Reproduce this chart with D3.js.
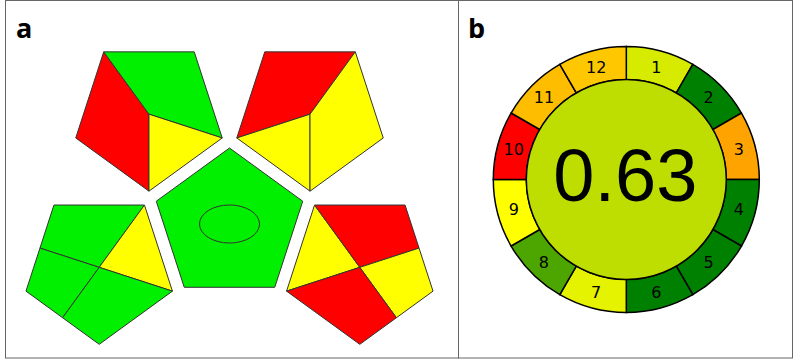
<!DOCTYPE html>
<html>
<head>
<meta charset="utf-8">
<script src="https://cdn.jsdelivr.net/npm/d3@7"></script>
<style>
  html, body { margin: 0; padding: 0; background: #fff; }
  svg { display: block; }
</style>
</head>
<body>
<div id="chart"></div>
<script>
(function() {
  'use strict';
  var WIDTH = 794;
  var HEIGHT = 359;

  // panel a: GAPI field colours, per pentagon, in drawing order of its fields
  var gapiTopLeft = ['R', 'G', 'Y'];
  var gapiTopRight = ['R', 'Y', 'Y'];
  var gapiBottomLeft = ['G', 'Y', 'G', 'G'];
  var gapiBottomRight = ['Y', 'R', 'Y', 'R'];
  var gapiCentre = ['G'];

  // panel b: AGREE principle scores and weights
  var agreeLabels = ['1', '2', '3', '4', '5', '6', '7', '8', '9', '10', '11', '12'];
  var agreeScores = [0.58, 1.0, 0.32, 1.0, 1.0, 1.0, 0.55, 0.85, 0.5, 0.0, 0.37, 0.39];
  var agreeWeights = [1, 1, 1, 1, 1, 1, 1, 1, 1, 1, 1, 1];

  var gapiColor = d3.scaleOrdinal(['G', 'Y', 'R'], ['#00f000', '#ffff00', '#ff0000']);
  var agreeColor = d3.scaleLinear().domain([0, 0.5, 1]).range(['#ff0000', '#ffff00', '#008000']);

  var svg = d3.select('#chart').append('svg')
    .attr('width', WIDTH)
    .attr('height', HEIGHT);

  svg.append('rect').attr('width', WIDTH).attr('height', HEIGHT).attr('fill', '#fff');

  // frames
  svg.append('rect').attr('x', 5.5).attr('y', 0.5).attr('width', 453).attr('height', 357.5)
    .attr('fill', 'none').attr('stroke', '#666').attr('stroke-width', 1);
  svg.append('rect').attr('x', 458.5).attr('y', 0.5).attr('width', 334).attr('height', 357.5)
    .attr('fill', 'none').attr('stroke', '#666').attr('stroke-width', 1);

  svg.append('text').attr('x', 16).attr('y', 38).text('a')
    .attr('font-family', 'Open Sans, sans-serif').attr('font-weight', 'bold').attr('font-size', 27);
  svg.append('text').attr('x', 468).attr('y', 38).text('b')
    .attr('font-family', 'Open Sans, sans-serif').attr('font-weight', 'bold').attr('font-size', 27);

  // ---- panel a ----
  var R = 77;
  var gap = 137;
  var cx = 229.5, cy = 225;
  var deg = Math.PI / 180;

  function pentagon(px, py, startDeg) {
    var pts = [];
    for (var i = 0; i < 5; i++) {
      var a = (startDeg + i * 72) * deg;
      pts.push([px + R * Math.cos(a), py + R * Math.sin(a)]);
    }
    return pts;
  }
  function mid(p, q) { return [(p[0] + q[0]) / 2, (p[1] + q[1]) / 2]; }

  var line = d3.line().curve(d3.curveLinearClosed);
  var ga = svg.append('g');

  // point-down pentagons: v0 top-left, v1 top-right, v2 right, v3 bottom, v4 left
  function fields(kind, v, c) {
    if (kind === 'tl') return [[c, v[0], v[4], v[3]], [c, v[0], v[1], v[2]], [c, v[2], v[3]]];
    if (kind === 'tr') return [[c, v[4], v[0], v[1]], [c, v[4], v[3]], [c, v[3], v[2], v[1]]];
    if (kind === 'bl') {
      var m04 = mid(v[0], v[4]), m34 = mid(v[3], v[4]);
      return [[c, m04, v[0], v[1]], [c, v[1], v[2]], [c, m04, v[4], m34], [c, m34, v[3], v[2]]];
    }
    var m12 = mid(v[1], v[2]), m23 = mid(v[2], v[3]);
    return [[c, v[0], v[4]], [c, v[0], v[1], m12], [c, m12, v[2], m23], [c, m23, v[3], v[4]]];
  }

  var outer = [
    {kind: 'tl', dir: 234, colors: gapiTopLeft},
    {kind: 'tr', dir: 306, colors: gapiTopRight},
    {kind: 'bl', dir: 162, colors: gapiBottomLeft},
    {kind: 'br', dir: 18, colors: gapiBottomRight}
  ];

  outer.forEach(function(p) {
    var px = cx + gap * Math.cos(p.dir * deg);
    var py = cy + gap * Math.sin(p.dir * deg);
    var v = pentagon(px, py, 234);
    var polys = fields(p.kind, v, [px, py]);
    ga.selectAll(null).data(polys).enter().append('path')
      .attr('d', function(d) { return line(d); })
      .attr('fill', function(d, i) { return gapiColor(p.colors[i]); })
      .attr('stroke', '#333').attr('stroke-width', 1).attr('stroke-linejoin', 'round');
  });

  ga.append('path')
    .attr('d', line(pentagon(cx, cy, -90)))
    .attr('fill', gapiColor(gapiCentre[0]))
    .attr('stroke', '#333').attr('stroke-width', 1);
  ga.append('ellipse')
    .attr('cx', cx).attr('cy', cy - 1).attr('rx', 30).attr('ry', 19)
    .attr('fill', gapiColor(gapiCentre[0]))
    .attr('stroke', '#333').attr('stroke-width', 1);

  // ---- panel b ----
  var bx = 626.3, by = 179.5;
  var rIn = 100, rOut = 133;
  var gb = svg.append('g').attr('transform', 'translate(' + bx + ',' + by + ')');

  var pie = d3.pie().sort(null).value(function(d) { return d.w; });
  var arcs = pie(agreeScores.map(function(s, i) {
    return {score: s, w: agreeWeights[i], label: agreeLabels[i]};
  }));
  var arc = d3.arc().innerRadius(rIn).outerRadius(rOut);

  gb.selectAll('path.seg').data(arcs).enter().append('path')
    .attr('class', 'seg')
    .attr('d', arc)
    .attr('fill', function(d) { return agreeColor(d.data.score); })
    .attr('stroke', '#000').attr('stroke-width', 1.5);

  gb.selectAll('text.lab').data(arcs).enter().append('text')
    .attr('class', 'lab')
    .attr('x', function(d) { return arc.centroid(d)[0]; })
    .attr('y', function(d) { return arc.centroid(d)[1]; })
    .attr('dy', '0.36em')
    .attr('text-anchor', 'middle')
    .attr('font-family', 'DejaVu Sans, sans-serif')
    .attr('font-size', 16)
    .text(function(d) { return d.data.label; });

  var mean = d3.sum(agreeScores, function(s, i) { return s * agreeWeights[i]; }) / d3.sum(agreeWeights);

  gb.append('circle').attr('r', rIn)
    .attr('fill', agreeColor(mean))
    .attr('stroke', '#000').attr('stroke-width', 1.5);

  gb.append('text')
    .attr('x', -1).attr('y', 21)
    .attr('text-anchor', 'middle')
    .attr('font-family', 'Liberation Sans, Arial, sans-serif')
    .attr('font-size', 74)
    .text(d3.format('.2f')(mean));
})();
</script>
</body>
</html>
